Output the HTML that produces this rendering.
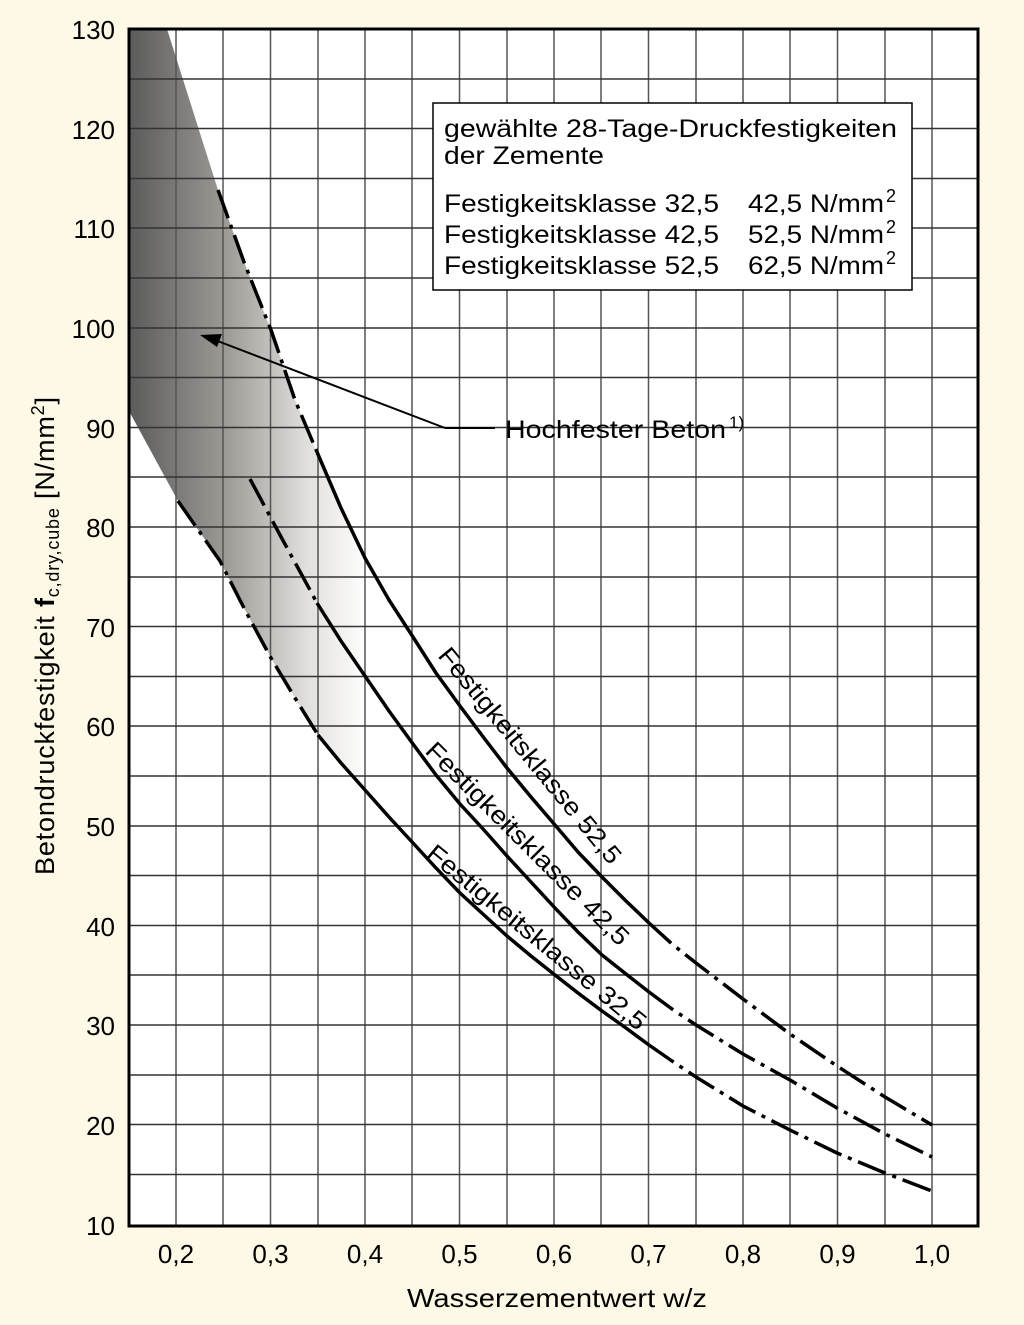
<!DOCTYPE html>
<html><head><meta charset="utf-8"><style>
html,body{margin:0;padding:0;background:#fdf9e6;}
svg{display:block;font-family:"Liberation Sans",sans-serif;}
</style></head><body>
<svg width="1024" height="1325" viewBox="0 0 1024 1325" xmlns="http://www.w3.org/2000/svg">
<defs>
<linearGradient id="g" x1="128" y1="0" x2="368" y2="0" gradientUnits="userSpaceOnUse">
<stop offset="0" stop-color="#5a5a5a"/>
<stop offset="0.4" stop-color="#9c9994"/>
<stop offset="0.75" stop-color="#e2e0dd"/>
<stop offset="1" stop-color="#ffffff"/>
</linearGradient>
</defs>
<rect x="0" y="0" width="1024" height="1325" fill="#fdf9e6"/>
<rect x="129" y="29" width="849" height="1197" fill="#fff"/>
<polygon fill="url(#g)" points="129,29 167,29 218,190 244,262 271,330 295,400 317,452 341,508 368,562 368,795 341,763 318,735 295,698 271,658 245,610 220,561 178,501 129,411"/>
<g stroke="#555" stroke-width="1.5">
<line x1="176" y1="29" x2="176" y2="1226"/><line x1="223" y1="29" x2="223" y2="1226"/>
<line x1="270.5" y1="29" x2="270.5" y2="1226"/><line x1="318" y1="29" x2="318" y2="1226"/>
<line x1="365" y1="29" x2="365" y2="1226"/><line x1="412" y1="29" x2="412" y2="1226"/>
<line x1="459.5" y1="29" x2="459.5" y2="1226"/><line x1="507" y1="29" x2="507" y2="1226"/>
<line x1="554" y1="29" x2="554" y2="1226"/><line x1="601" y1="29" x2="601" y2="1226"/>
<line x1="648.5" y1="29" x2="648.5" y2="1226"/><line x1="696" y1="29" x2="696" y2="1226"/>
<line x1="743" y1="29" x2="743" y2="1226"/><line x1="790" y1="29" x2="790" y2="1226"/>
<line x1="837.5" y1="29" x2="837.5" y2="1226"/><line x1="885" y1="29" x2="885" y2="1226"/>
<line x1="932" y1="29" x2="932" y2="1226"/>
</g>
<g stroke="#333" stroke-width="1.5">
<line x1="129" y1="79" x2="978" y2="79"/><line x1="129" y1="128.5" x2="978" y2="128.5"/>
<line x1="129" y1="178.5" x2="978" y2="178.5"/><line x1="129" y1="228" x2="978" y2="228"/>
<line x1="129" y1="278" x2="978" y2="278"/><line x1="129" y1="328" x2="978" y2="328"/>
<line x1="129" y1="377.5" x2="978" y2="377.5"/><line x1="129" y1="427.5" x2="978" y2="427.5"/>
<line x1="129" y1="477" x2="978" y2="477"/><line x1="129" y1="527" x2="978" y2="527"/>
<line x1="129" y1="577" x2="978" y2="577"/><line x1="129" y1="626.5" x2="978" y2="626.5"/>
<line x1="129" y1="676.5" x2="978" y2="676.5"/><line x1="129" y1="726" x2="978" y2="726"/>
<line x1="129" y1="776" x2="978" y2="776"/><line x1="129" y1="826" x2="978" y2="826"/>
<line x1="129" y1="875.5" x2="978" y2="875.5"/><line x1="129" y1="925.5" x2="978" y2="925.5"/>
<line x1="129" y1="975" x2="978" y2="975"/><line x1="129" y1="1025" x2="978" y2="1025"/>
<line x1="129" y1="1075" x2="978" y2="1075"/><line x1="129" y1="1124.5" x2="978" y2="1124.5"/>
<line x1="129" y1="1174.5" x2="978" y2="1174.5"/>
</g>
<rect x="129" y="29" width="849" height="1197" fill="none" stroke="#000" stroke-width="3"/>
<!-- legend box -->
<rect x="433" y="103" width="479" height="187" fill="#fff" stroke="#000" stroke-width="1.5"/>
<g font-size="25" fill="#000">
<text x="444" y="137" textLength="453" lengthAdjust="spacingAndGlyphs">gewählte 28-Tage-Druckfestigkeiten</text>
<text x="444" y="164" textLength="160" lengthAdjust="spacingAndGlyphs">der Zemente</text>
<text x="444" y="212" textLength="275" lengthAdjust="spacingAndGlyphs">Festigkeitsklasse 32,5</text>
<text x="444" y="243" textLength="275" lengthAdjust="spacingAndGlyphs">Festigkeitsklasse 42,5</text>
<text x="444" y="274" textLength="275" lengthAdjust="spacingAndGlyphs">Festigkeitsklasse 52,5</text>
<text x="748" y="212" textLength="136" lengthAdjust="spacingAndGlyphs">42,5 N/mm</text><text x="886" y="202" font-size="18">2</text>
<text x="748" y="243" textLength="136" lengthAdjust="spacingAndGlyphs">52,5 N/mm</text><text x="886" y="233" font-size="18">2</text>
<text x="748" y="274" textLength="136" lengthAdjust="spacingAndGlyphs">62,5 N/mm</text><text x="886" y="264" font-size="18">2</text>
</g>
<!-- curves -->
<g fill="none" stroke="#000" stroke-width="3.5" stroke-linejoin="round">
<polyline stroke-dasharray="30 7 4 7" points="218,190 244,262 271,330 295,400 317,452"/>
<polyline points="317,452 341,508 365,558 389,600 413,637 436,673 460,706 484,738 507,768 531,797 555,825 578,852 602,877 626,901 649,923"/>
<polyline stroke-dasharray="30 7 4 7" points="649,923 672,944 696,963 743,999 790,1034 837,1066 885,1097 932,1125"/>
<polyline stroke-dasharray="30 7 4 7" points="250,479 280,535 310,590 317,603"/>
<polyline points="317,603 341,641 365,676 389,711 413,744 436,775 460,804 484,830 507,856 531,882 555,908 578,932 602,955 626,974 649,992"/>
<polyline stroke-dasharray="30 7 4 7" points="649,992 672,1009 696,1025 743,1054 790,1080 837,1108 885,1134 932,1157"/>
<polyline stroke-dasharray="30 7 4 7" points="178,501 199,531 220,561 245,610 271,658 295,698 318,735"/>
<polyline points="318,735 341,763 365,790 389,817 413,843 436,868 460,893 484,915 507,936 531,956 555,975 578,993 602,1011 626,1028 649,1045"/>
<polyline stroke-dasharray="30 7 4 7" points="649,1045 672,1061 696,1077 743,1106 790,1130 837,1153 885,1173 932,1191"/>
</g>
<!-- arrow -->
<line x1="445" y1="428" x2="215" y2="340" stroke="#000" stroke-width="2"/>
<polygon points="200,335 222,334 217,347" fill="#000"/>
<line x1="445" y1="428" x2="495" y2="428" stroke="#000" stroke-width="2"/>
<text x="505" y="438" font-size="25" textLength="221" lengthAdjust="spacingAndGlyphs">Hochfester Beton</text>
<text x="729" y="428" font-size="17">1)</text>
<!-- curve labels -->
<g font-size="25" fill="#000">
<text transform="translate(437,656) rotate(50.5)" textLength="272" lengthAdjust="spacingAndGlyphs">Festigkeitsklasse 52,5</text>
<text transform="translate(424,752) rotate(45)" textLength="276" lengthAdjust="spacingAndGlyphs">Festigkeitsklasse 42,5</text>
<text transform="translate(425,856) rotate(39.5)" textLength="276" lengthAdjust="spacingAndGlyphs">Festigkeitsklasse 32,5</text>
</g>
<!-- y ticks -->
<g font-size="26" text-anchor="end" fill="#000">
<text x="115" y="39">130</text><text x="115" y="139">120</text><text x="115" y="238">110</text>
<text x="115" y="338">100</text><text x="115" y="438">90</text><text x="115" y="537">80</text>
<text x="115" y="637">70</text><text x="115" y="736">60</text><text x="115" y="836">50</text>
<text x="115" y="936">40</text><text x="115" y="1035">30</text><text x="115" y="1135">20</text>
<text x="115" y="1235">10</text>
</g>
<g font-size="26" text-anchor="middle" fill="#000">
<text x="176" y="1263">0,2</text><text x="270.5" y="1263">0,3</text><text x="365" y="1263">0,4</text>
<text x="459.5" y="1263">0,5</text><text x="554" y="1263">0,6</text><text x="648.5" y="1263">0,7</text>
<text x="743" y="1263">0,8</text><text x="837.5" y="1263">0,9</text><text x="932" y="1263">1,0</text>
</g>
<text x="407" y="1307" font-size="26" textLength="300" lengthAdjust="spacingAndGlyphs">Wasserzementwert w/z</text>
<text transform="translate(54,875) rotate(-90)" font-size="27" textLength="478" lengthAdjust="spacing">Betondruckfestigkeit  <tspan font-weight="bold">f</tspan><tspan font-size="18" dy="5">c,dry,cube</tspan><tspan dy="-5"> [N/mm</tspan><tspan font-size="18" dy="-10">2</tspan><tspan dy="10">]</tspan></text>
</svg>
</body></html>
